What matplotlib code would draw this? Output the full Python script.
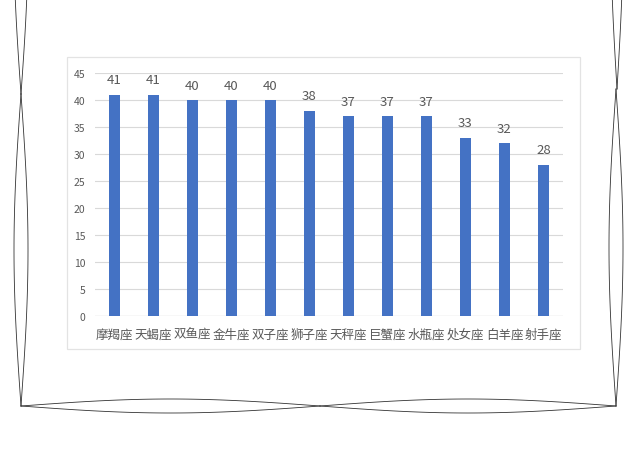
import numpy as np
import matplotlib.pyplot as plt
from matplotlib.patches import Rectangle

plt.rcParams['font.family'] = ['Noto Sans CJK SC', 'DejaVu Sans']

# data
signs = ['摩羯座', '天蝎座', '双鱼座', '金牛座', '双子座', '狮子座',
         '天秤座', '巨蟹座', '水瓶座', '处女座', '白羊座', '射手座']
counts = [41, 41, 40, 40, 40, 38, 37, 37, 37, 33, 32, 28]
yticks = [0, 5, 10, 15, 20, 25, 30, 35, 40, 45]

bar_color = '#4472C4'
text_gray = '#595959'
grid_gray = '#D9D9D9'

fig = plt.figure(figsize=(6.4, 4.52), dpi=100)

# overlay in pixel coords for the panel border and the sketchy frame
deco = fig.add_axes([0, 0, 1, 1], zorder=0)
deco.set_xlim(0, 640)
deco.set_ylim(452, 0)
deco.axis('off')
deco.add_patch(Rectangle((67, 58), 513, 292, fill=False,
                         edgecolor='#E3E3E3', linewidth=0.9))

def lens(ax, p0, p1, half, vertical):
	# two thin bowed strokes between two points
	s = np.linspace(0, 1, 120)
	bulge = half * np.sin(np.pi * s)
	for sgn in (1, -1):
		if vertical:
			y = p0 + (p1 - p0) * s
			x = vertical + sgn * bulge
		else:
			x = p0 + (p1 - p0) * s
			y = 407 + sgn * bulge
		ax.plot(x, y, color='#333333', linewidth=0.6)

lens(deco, -217, 95, 7, 21)
lens(deco, 95, 407, 7, 21)
lens(deco, -225, 90, 6, 617)
lens(deco, 90, 407, 7, 616)
lens(deco, 21, 320, 7, None)
lens(deco, 320, 616, 7, None)

ax = fig.add_axes([95/640, 1 - 317/452, 468/640, 243/452], zorder=1)
ax.set_facecolor('none')
x = np.arange(len(signs))
bars = ax.bar(x, counts, width=0.29, color=bar_color, zorder=2)
ax.set_xlim(-0.5, len(signs) - 0.5)
ax.set_ylim(0, 45)
ax.set_yticks(yticks)
ax.set_xticks(x)
ax.set_xticklabels([])
ax.tick_params(axis='y', labelsize=7.5, colors=text_gray, length=0, pad=7)
ax.tick_params(axis='x', length=0)
for sp in ax.spines.values():
	sp.set_visible(False)
ax.yaxis.grid(True, color=grid_gray, linewidth=0.8, zorder=0)
ax.axhline(0, color=grid_gray, linewidth=0.9, zorder=1)
ax.set_axisbelow(True)

# category names on a common baseline
for xi, name in zip(x, signs):
	ax.annotate(name, (xi, 0), xytext=(0, -15.5), textcoords='offset points',
	            ha='center', va='baseline', fontsize=9, color=text_gray)

for xi, v in zip(x, counts):
	ax.annotate(str(v), (xi, v), xytext=(0, 6), textcoords='offset points',
	            ha='center', va='bottom', fontsize=9.5, color=text_gray)

fig.savefig('out.png', dpi=100)
